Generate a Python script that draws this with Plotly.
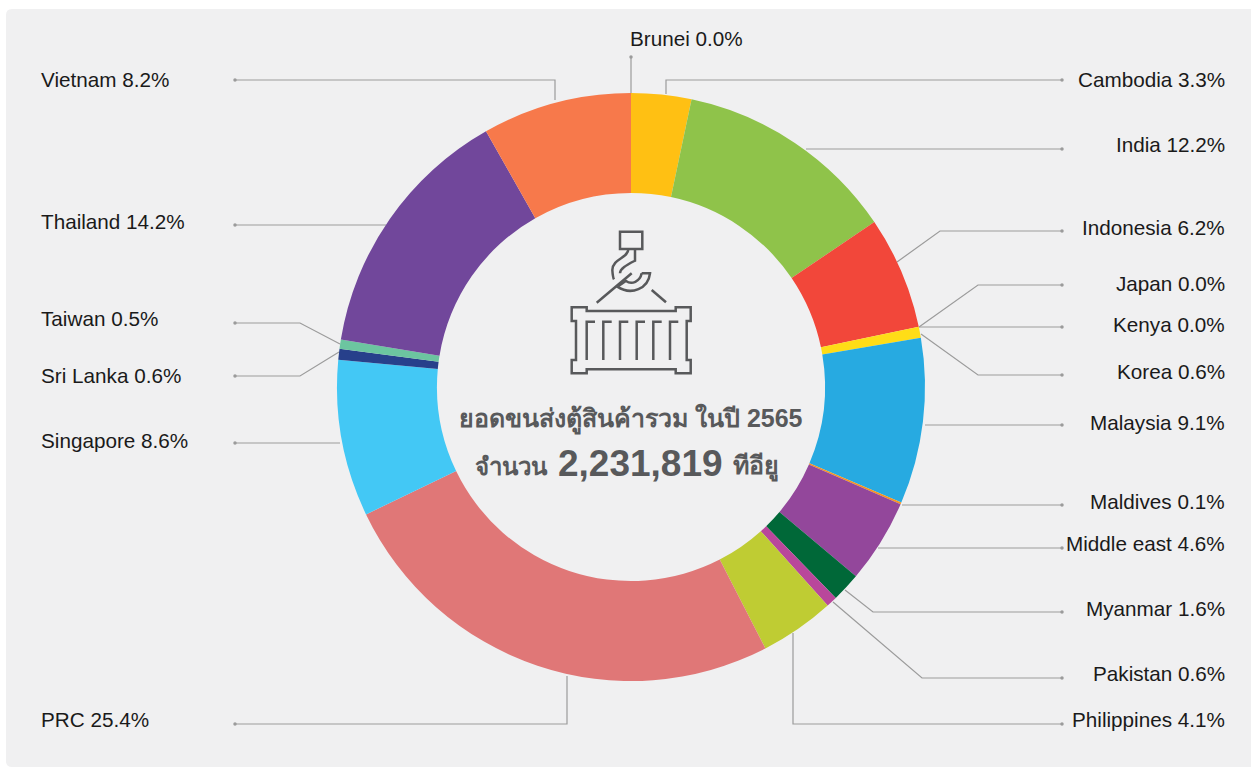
import plotly.graph_objects as go

W, H = 1251, 767

# ---- data -------------------------------------------------------------
categories = ["Brunei", "Cambodia", "India", "Indonesia", "Japan", "Kenya", "Korea",
              "Malaysia", "Maldives", "Middle east", "Myanmar", "Pakistan", "Philippines",
              "PRC", "Singapore", "Sri Lanka", "Taiwan", "Thailand", "Vietnam"]
shares = [0.0, 3.3, 12.2, 6.2, 0.0, 0.0, 0.6, 9.1, 0.1, 4.6, 1.6, 0.6, 4.1,
          25.4, 8.6, 0.6, 0.5, 14.2, 8.2]
slice_colors = ["#FFC013", "#FFC013", "#8FC34A", "#F2473A", "#FFDD17", "#FFDD17", "#FFDD17",
                "#27AAE1", "#F7941D", "#93479B", "#006838", "#B9479B", "#BFCC33",
                "#E07777", "#43C8F5", "#27408B", "#6CC5A0", "#71479B", "#F7794B"]
title_line = "ยอดขนส่งตู้สินค้ารวม ในปี 2565"
total_prefix = "จำนวน"
total_value = "2,231,819"
total_suffix = "ทีอียู"

# ---- layout: label anchor (side, x, y) and leader route in page pixels --
label_pos = {
    "Brunei": ("center", 686, 38), "Cambodia": ("right", 1227, 79), "India": ("right", 1227, 144),
    "Indonesia": ("right", 1227, 227), "Japan": ("right", 1227, 283), "Kenya": ("right", 1227, 324),
    "Korea": ("right", 1227, 371), "Malaysia": ("right", 1227, 422), "Maldives": ("right", 1227, 501),
    "Middle east": ("right", 1227, 543), "Myanmar": ("right", 1227, 608), "Pakistan": ("right", 1227, 673),
    "Philippines": ("right", 1227, 719), "PRC": ("left", 39, 719), "Singapore": ("left", 39, 440),
    "Sri Lanka": ("left", 39, 375), "Taiwan": ("left", 39, 318), "Thailand": ("left", 39, 221),
    "Vietnam": ("left", 39, 79),
}
leader_routes = {
    "Brunei": [(631, 93), (631, 57)],
    "Cambodia": [(666, 94), (666, 80), (1062, 80)],
    "India": [(806, 149), (1062, 149)],
    "Indonesia": [(897, 262), (940, 231), (1062, 231)],
    "Japan": [(919, 327), (978, 285), (1062, 285)],
    "Kenya": [(919, 327), (1062, 327)],
    "Korea": [(921, 334), (978, 375), (1062, 375)],
    "Malaysia": [(925, 425), (1062, 425)],
    "Maldives": [(902, 505), (1062, 505)],
    "Middle east": [(878, 548), (1062, 548)],
    "Myanmar": [(845, 590), (873, 612), (1062, 612)],
    "Pakistan": [(833, 602), (922, 678), (1062, 678)],
    "Philippines": [(793, 633), (793, 724), (1062, 724)],
    "PRC": [(567, 676), (567, 724), (235, 724)],
    "Singapore": [(340, 443), (235, 443)],
    "Sri Lanka": [(339, 352), (300, 376), (235, 376)],
    "Taiwan": [(340, 344), (300, 323), (235, 323)],
    "Thailand": [(386, 225), (235, 225)],
    "Vietnam": [(555, 100), (555, 80), (235, 80)],
}

CX, CY, R, HOLE = 631, 387, 294, 0.66
INK = "#58595B"
LEAD = "#9B9B9B"
PANEL = "#F0F0F1"
FONT = "Liberation Sans, Arial, Noto Sans, sans-serif"

fig = go.Figure()

# leader lines with end dots
lx, ly, dx, dy = [], [], [], []
for name in categories:
    pts = leader_routes[name]
    lx += [p[0] for p in pts] + [None]
    ly += [p[1] for p in pts] + [None]
    dx.append(pts[-1][0])
    dy.append(pts[-1][1])
fig.add_trace(go.Scatter(x=lx, y=ly, mode="lines", line=dict(color=LEAD, width=1.2),
                         hoverinfo="skip", showlegend=False))
fig.add_trace(go.Scatter(x=dx, y=dy, mode="markers", marker=dict(color=LEAD, size=3.5),
                         hoverinfo="skip", showlegend=False))

# doughnut
fig.add_trace(go.Pie(
    labels=categories, values=shares, sort=False, direction="clockwise", rotation=0,
    hole=HOLE, textinfo="none", showlegend=False,
    marker=dict(colors=slice_colors, line=dict(width=0)),
    domain=dict(x=[(CX - R) / W, (CX + R) / W], y=[1 - (CY + R) / H, 1 - (CY - R) / H]),
))

# labels
annotations = []
for name, val in zip(categories, shares):
    side, x, y = label_pos[name]
    annotations.append(dict(x=x, y=y, xref="x", yref="y", text=f"{name} {val:.1f}%", showarrow=False,
                            xanchor=side, yanchor="middle", font=dict(family=FONT, size=20.7, color="#1A1A1A")))
annotations += [
    dict(x=631, y=419, xref="x", yref="y", text=f"<b>{title_line}</b>", showarrow=False,
         xanchor="center", yanchor="middle", font=dict(family=FONT, size=25, color=INK)),
    dict(x=550, y=466, xref="x", yref="y", text=f"<b>{total_prefix}</b>", showarrow=False,
         xanchor="right", yanchor="middle", font=dict(family=FONT, size=24, color=INK)),
    dict(x=640.5, y=463, xref="x", yref="y", text=f"<b>{total_value}</b>", showarrow=False,
         xanchor="center", yanchor="middle", font=dict(family=FONT, size=37, color=INK)),
    dict(x=731, y=466, xref="x", yref="y", text=f"<b>{total_suffix}</b>", showarrow=False,
         xanchor="left", yanchor="middle", font=dict(family=FONT, size=25, color=INK)),
]

# icon, drawn in the units of a 3x crop whose origin is page (530, 210)
def ic(*pts):
    return " ".join(f"{a} {530 + p[0] / 3:.1f},{210 + p[1] / 3:.1f}" for a, p in pts)

icon_paths = [
    ic(("M", (270, 65)), ("L", (337, 65)), ("L", (337, 117)), ("L", (270, 117))) + " Z",
    ic(("M", (125, 292)), ("L", (170, 292)), ("L", (170, 303)), ("L", (437, 303)), ("L", (437, 292)),
       ("L", (482, 292)), ("L", (482, 333)), ("L", (470, 333)), ("L", (470, 450)), ("L", (482, 450)),
       ("L", (482, 490)), ("L", (437, 490)), ("L", (437, 478)), ("L", (170, 478)), ("L", (170, 490)),
       ("L", (125, 490)), ("L", (125, 450)), ("L", (138, 450)), ("L", (138, 333)), ("L", (125, 333))) + " Z",
    ic(("M", (200, 278)), ("L", (305, 190))),
    ic(("M", (365, 240)), ("L", (408, 277))),
    "M {} {} C {} {}, {} {}, {} {} C {} {}, {} {}, {} {}".format(
        *[v for p in [(295, 117), (295, 145), (248, 145), (247, 180), (248, 195), (250, 205), (252, 208)]
          for v in (530 + p[0] / 3, 210 + p[1] / 3)]),
    "M {} {} L {} {} C {} {}, {} {}, {} {}".format(
        *[v for p in [(315, 117), (315, 152), (290, 165), (270, 175), (270, 190)]
          for v in (530 + p[0] / 3, 210 + p[1] / 3)]),
    "M {} {} L {} {} C {} {}, {} {}, {} {} C {} {}, {} {}, {} {} C {} {}, {} {}, {} {}".format(
        *[v for p in [(335, 190), (360, 190), (355, 235), (305, 258), (262, 230),
                      (275, 222), (280, 218), (288, 213), (305, 225), (330, 215), (335, 190)]
          for v in (530 + p[0] / 3, 210 + p[1] / 3)]),
]
for xb in (170, 220, 270, 320, 370, 420):
    icon_paths.append(ic(("M", (xb, 450)), ("L", (xb, 335)), ("L", (xb + 25, 335))))

shapes = [dict(type="path", layer="below", xref="x", yref="y", line=dict(width=0), fillcolor=PANEL,
               path=f"M 6 15 Q 6 9 12 9 L {W} 9 L {W} {H} L 12 {H} Q 6 {H} 6 {H - 6} Z")]
for p in icon_paths:
    shapes.append(dict(type="path", layer="above", xref="x", yref="y", path=p,
                       line=dict(color=INK, width=2.5)))

fig.update_layout(
    width=W, height=H, margin=dict(l=0, r=0, t=0, b=0), autosize=False,
    paper_bgcolor="white", plot_bgcolor="rgba(0,0,0,0)",
    xaxis=dict(range=[0, W], visible=False, fixedrange=True),
    yaxis=dict(range=[H, 0], visible=False, fixedrange=True),
    annotations=annotations, shapes=shapes,
)
fig.write_html("out.html", config=dict(displayModeBar=False),
               post_script="document.body.style.margin='0';document.body.style.overflow='hidden';")
